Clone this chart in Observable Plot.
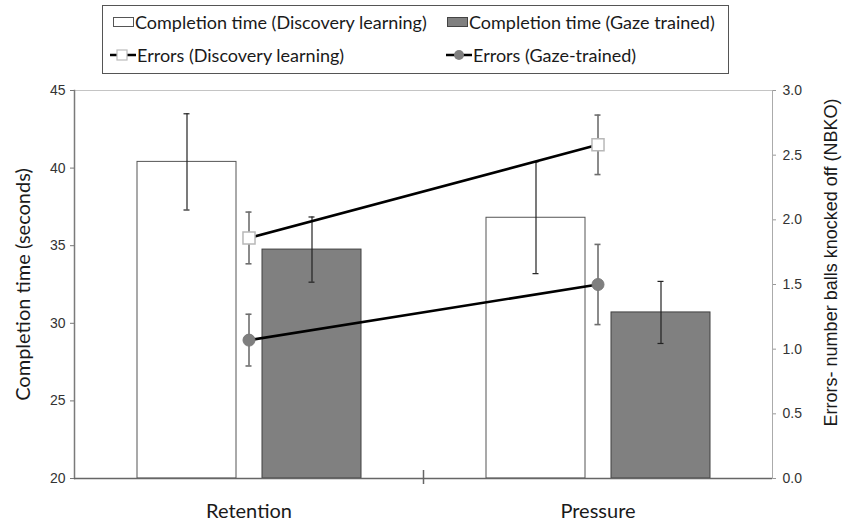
<!DOCTYPE html>
<html>
<head>
<meta charset="utf-8">
<script src="https://cdn.jsdelivr.net/npm/d3@7"></script>
<script src="https://cdn.jsdelivr.net/npm/@observablehq/plot@0.6"></script>
<style>
  html, body { margin: 0; padding: 0; background: #fff; }
  #wrap { width: 843px; height: 521px; position: relative; overflow: hidden; }
  #legend { position: relative; width: 843px; height: 82px; }
  #legend .box { position: absolute; left: 102px; top: 5px; width: 625px; height: 67px; border: 1px solid #555; box-sizing: content-box; }
  #legend .item { position: absolute; font-family: Lato, "Open Sans", sans-serif; font-size: 18px; line-height: 22px; color: #1a1a1a; white-space: nowrap; }
  #legend svg { position: absolute; }
  #chart svg { display: block; }
</style>
</head>
<body>
<div id="wrap">
  <div id="legend"></div>
  <div id="chart"></div>
</div>
<script>
// ---- data ----
const categories = ["Retention", "Pressure"];
const timeDiscovery = [40.4, 36.8];
const timeDiscoveryErr = [3.1, 3.6];
const timeGaze = [34.75, 30.7];
const timeGazeErr = [2.1, 2.0];
const errorsDiscovery = [1.86, 2.58];
const errorsDiscoveryErr = [0.2, 0.23];
const errorsGaze = [1.07, 1.5];
const errorsGazeErr = [0.2, 0.31];
const leftTicks = [20, 25, 30, 35, 40, 45];
const rightTicks = [0, 0.5, 1, 1.5, 2, 2.5, 3];
const legendLabels = [
  "Completion time (Discovery learning)",
  "Completion time (Gaze trained)",
  "Errors (Discovery learning)",
  "Errors (Gaze-trained)"
];
const yTitleLeft = "Completion time (seconds)";
const yTitleRight = "Errors- number balls knocked off (NBKO)";

// ---- layout ----
const W = 843, H = 439, mL = 74, mR = 71, mT = 8, mB = 43;
const bw = (W - mL - mR) / categories.length;
const yMin = 20, yMax = 45, eMax = 3;
const toL = e => yMin + e * (yMax - yMin) / eMax;
const capW = 6;
const capInset = (bw - capW) / 2;

const rows = categories.map((c, i) => ({
  cat: c,
  td: timeDiscovery[i], tdE: timeDiscoveryErr[i],
  tg: timeGaze[i], tgE: timeGazeErr[i],
  ed: errorsDiscovery[i], edE: errorsDiscoveryErr[i],
  eg: errorsGaze[i], egE: errorsGazeErr[i]
}));

const barInset = (bw - 99) / 2;
const dxD = -62, dxG = 63;

function errMarks(key, keyE, dx, stroke, sw) {
  return [
    Plot.ruleX(rows, {x: "cat", y1: d => d[key] - d[keyE], y2: d => d[key] + d[keyE], dx, stroke, strokeWidth: sw}),
    Plot.tickY(rows, {x: "cat", y: d => d[key] + d[keyE], dx, insetLeft: capInset, insetRight: capInset, stroke, strokeWidth: sw}),
    Plot.tickY(rows, {x: "cat", y: d => d[key] - d[keyE], dx, insetLeft: capInset, insetRight: capInset, stroke, strokeWidth: sw})
  ];
}
function errMarksE(key, keyE, stroke, sw) {
  return [
    Plot.ruleX(rows, {x: "cat", y1: d => toL(d[key] - d[keyE]), y2: d => toL(d[key] + d[keyE]), stroke, strokeWidth: sw}),
    Plot.tickY(rows, {x: "cat", y: d => toL(d[key] + d[keyE]), insetLeft: capInset, insetRight: capInset, stroke, strokeWidth: sw}),
    Plot.tickY(rows, {x: "cat", y: d => toL(d[key] - d[keyE]), insetLeft: capInset, insetRight: capInset, stroke, strokeWidth: sw})
  ];
}

const chart = Plot.plot({
  width: W, height: H,
  marginLeft: mL, marginRight: mR, marginTop: mT, marginBottom: mB,
  x: {domain: categories, padding: 0, axis: null},
  y: {domain: [yMin, yMax], axis: null},
  style: {fontFamily: "'Liberation Sans', Arial, sans-serif", fontSize: "14px", color: "#333", background: "white", overflow: "visible"},
  marks: [
    Plot.ruleY([yMax], {stroke: "#c4c4c4", strokeWidth: 1}),
    Plot.barY(rows, {x: "cat", y1: yMin, y2: "td", dx: dxD, insetLeft: barInset, insetRight: barInset, fill: "white", stroke: "#555", strokeWidth: 1}),
    Plot.barY(rows, {x: "cat", y1: yMin, y2: "tg", dx: dxG, insetLeft: barInset, insetRight: barInset, fill: "#808080", stroke: "#404040", strokeWidth: 1}),
    ...errMarks("td", "tdE", dxD, "#222", 1.2),
    ...errMarks("tg", "tgE", dxG, "#222", 1.2),
    ...errMarksE("ed", "edE", "#6e6e6e", 1.6),
    ...errMarksE("eg", "egE", "#6e6e6e", 1.6),
    Plot.line(rows, {x: "cat", y: d => toL(d.ed), stroke: "#000", strokeWidth: 2.6}),
    Plot.line(rows, {x: "cat", y: d => toL(d.eg), stroke: "#000", strokeWidth: 2.6}),
    Plot.dot(rows, {x: "cat", y: d => toL(d.ed), symbol: "square", r: 6.8, fill: "white", stroke: "#b8b8b8", strokeWidth: 1.5}),
    Plot.dot(rows, {x: "cat", y: d => toL(d.eg), symbol: "circle", r: 6, fill: "#7f7f7f", stroke: "#7a7a7a", strokeWidth: 1}),
    // axes
    Plot.frame({anchor: "left", stroke: "#7a7a7a", strokeWidth: 1.5}),
    Plot.frame({anchor: "right", stroke: "#ababab", strokeWidth: 1}),
    Plot.ruleY([yMin], {stroke: "#666", strokeWidth: 1.5}),
    Plot.ruleX([categories[1]], {dx: -bw / 2, insetTop: H - mT - mB - 8, insetBottom: -6, stroke: "#666", strokeWidth: 1.5}),
    Plot.axisY({ticks: leftTicks, tickSize: 4, tickPadding: 5, label: null, stroke: "#777", fill: "#333"}),
    Plot.axisY({anchor: "right", ticks: rightTicks.map(toL), tickFormat: v => ((v - yMin) * eMax / (yMax - yMin)).toFixed(1), tickSize: 3, tickPadding: 7, label: null, stroke: "#999", fill: "#333"}),
    Plot.axisX({tickSize: 0, tickPadding: 25, label: null, fontSize: 20, fontFamily: "Lato, sans-serif", fill: "#1a1a1a"}),
    Plot.text([yTitleLeft], {frameAnchor: "left", textAnchor: "middle", rotate: -90, dx: -51, fontSize: 20, fontFamily: "Lato, sans-serif", fill: "#1a1a1a"}),
    Plot.text([yTitleRight], {frameAnchor: "right", textAnchor: "middle", rotate: -90, dx: 59, dy: -22, fontSize: 18, fontFamily: "'Liberation Sans', Arial, sans-serif", fill: "#1a1a1a"})
  ]
});
document.getElementById("chart").appendChild(chart);

// ---- legend ----
const legend = document.getElementById("legend");
legend.innerHTML = '<div class="box"></div>';
const sw = (x, y, w, h, inner) => {
  const s = document.createElementNS("http://www.w3.org/2000/svg", "svg");
  s.setAttribute("width", w); s.setAttribute("height", h);
  s.style.left = x + "px"; s.style.top = y + "px";
  s.innerHTML = inner;
  legend.appendChild(s);
};
const item = (x, cy, text) => {
  const d = document.createElement("div");
  d.className = "item";
  d.style.left = x + "px"; d.style.top = (cy - 11) + "px";
  d.textContent = text;
  legend.appendChild(d);
};
sw(112, 16, 24, 12, '<rect x="1.5" y="1.5" width="20" height="9" fill="white" stroke="#555" stroke-width="1"/>');
item(135, 22, legendLabels[0]);
sw(446, 16, 24, 12, '<rect x="1.5" y="1.5" width="20" height="9" fill="#808080" stroke="#444" stroke-width="1"/>');
item(469, 22, legendLabels[1]);
sw(109, 48, 28, 14, '<line x1="1" y1="7" x2="27" y2="7" stroke="#000" stroke-width="2.5"/><rect x="8" y="2" width="10" height="10" fill="white" stroke="#bbb" stroke-width="1.2"/>');
item(137, 55, legendLabels[2]);
sw(445, 48, 28, 14, '<line x1="1" y1="7" x2="27" y2="7" stroke="#000" stroke-width="2.5"/><circle cx="14" cy="7" r="5" fill="#7f7f7f"/>');
item(473, 55, legendLabels[3]);
</script>
</body>
</html>
